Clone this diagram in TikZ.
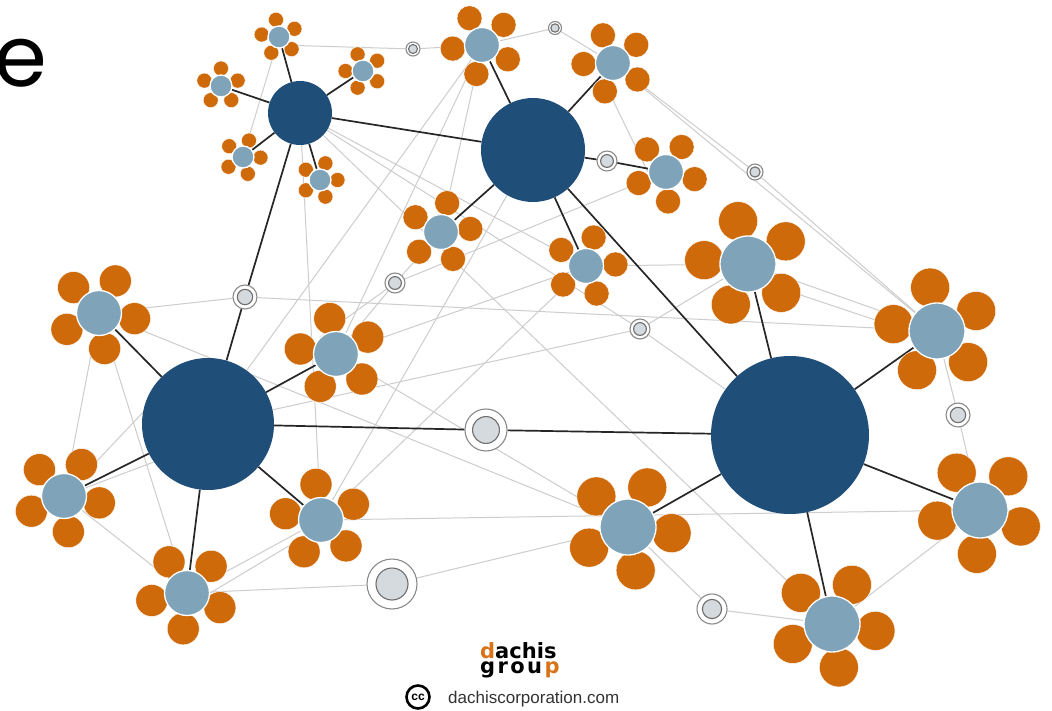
\documentclass[tikz,border=0pt]{standalone}
\usepackage{fontspec}
\setmainfont{Liberation Sans}
\newfontfamily\titlefont{Poppins}
\newfontfamily\logofont{DejaVu Sans}
\definecolor{hubblue}{HTML}{1F4E79}
\definecolor{fcblue}{HTML}{7FA3B9}
\definecolor{petalc}{HTML}{CF6A0A}
\definecolor{logoorange}{HTML}{D9731A}
\definecolor{ringc}{HTML}{8A8A8A}
\definecolor{ringc2}{HTML}{6E6E6E}
\definecolor{ringfill}{HTML}{D5DADE}
\definecolor{linegrey}{HTML}{CDCDCD}
\definecolor{lineblack}{HTML}{262626}
\definecolor{urlgrey}{HTML}{333333}
\pgfdeclarelayer{paper}
\pgfdeclarelayer{background}
\pgfsetlayers{paper,background,main}
\tikzset{
  hub/.style={circle, fill=hubblue, inner sep=0pt},
  fc/.style={circle, fill=fcblue, draw=white, line width=1.3pt, inner sep=0pt},
  petal/.style={fill=petalc, draw=white, line width=0.4pt},
  ringo/.style={circle, fill=white, draw=ringc, line width=1.1pt, inner sep=0pt},
  ringi/.style={fill=ringfill, draw=ringc2, line width=1.1pt},
  gl/.style={draw=linegrey, line width=1pt},
  bl/.style={draw=lineblack, line width=1.7pt},
}
% name, x, y, offset angle, petal distance, petal radius, centre radius
\newcommand\myflower[7]{%
  \foreach \k in {0,...,4}{\fill[petal] (#2,#3) ++(#4+72*\k:#5pt) circle (#6pt);}
  \node[fc, minimum size=2*#7pt] (#1) at (#2,#3) {};
}
\newcommand\smallfl[4]{\myflower{#1}{#2}{#3}{#4}{17.5}{7.5}{11}}
\newcommand\medfl[4]{\myflower{#1}{#2}{#3}{#4}{29.5}{12.5}{17.5}}
\newcommand\mlfl[4]{\myflower{#1}{#2}{#3}{#4}{36}{16}{22.5}}
\newcommand\bigfl[4]{\myflower{#1}{#2}{#3}{#4}{44}{19.5}{28}}
% name, x, y, outer radius
\newcommand\myring[4]{%
  \node[ringo, minimum size=2*#4pt] (#1) at (#2,#3) {};
  \draw[ringi] (#1.center) circle ({0.64*#4pt});
}
\begin{document}
\begin{tikzpicture}[x=1pt,y=-1pt]
\useasboundingbox (0,0) rectangle (1052,711);
\begin{pgfonlayer}{paper}
\fill[white] (0,0) rectangle (1052,711);
\end{pgfonlayer}

% title fragment
\node[anchor=base west, inner sep=0pt, font=\titlefont\fontsize{85}{85}\selectfont] (title) at (-6,87) {e};

% hubs
\node[hub, minimum size=64pt] (H1) at (300,113) {};
\node[hub, minimum size=104pt] (H2) at (533,150) {};
\node[hub, minimum size=132pt] (H3) at (208,424) {};
\node[hub, minimum size=158pt] (H4) at (790,435) {};

% flowers
\smallfl{f1}{279}{37}{100}
\smallfl{f2}{221}{86}{90}
\smallfl{f3}{363}{71}{108}
\smallfl{f4}{243}{157}{70}
\smallfl{f5}{320}{180}{72}
\medfl{f6}{482}{45}{115}
\medfl{f7}{613}{63}{110}
\medfl{f8}{666}{172}{130}
\medfl{f9}{441}{232}{78}
\medfl{f10}{586}{266}{75}
\mlfl{f11}{99}{313}{135}
\mlfl{f12}{336}{354}{100}
\mlfl{f13}{64}{496}{133}
\mlfl{f14}{321}{520}{98}
\mlfl{f15}{187}{593}{120}
\bigfl{f16}{748}{264}{103}
\bigfl{f17}{937}{331}{99}
\bigfl{f18}{980}{510}{122}
\bigfl{f19}{628}{527}{136}
\bigfl{f20}{832}{624}{135}

% ring nodes
\myring{r1}{413}{49}{7}
\myring{r2}{555}{28}{6.5}
\myring{r3}{607}{161}{10}
\myring{r4}{755}{172}{8}
\myring{r5}{395}{283}{10}
\myring{r6}{245}{297}{12}
\myring{r7}{640}{329}{10}
\myring{r8}{486}{430}{21}
\myring{r9}{958}{415}{12}
\myring{r10}{392}{584}{25}
\myring{r11}{712}{609}{15}

\begin{pgfonlayer}{background}
% grey links
\draw[gl] (f1.south east) -- (r1);  \draw[gl] (r1) -- (f6);
\draw[gl] (f6) -- (r2);  \draw[gl] (r2) -- (f7);
\draw[gl] (f7) -- (r4);  \draw[gl] (r4) -- (f17);
\draw[gl] (f7) -- (f17);
\draw[gl] (f1) -- (f4);
\draw[gl] (H1) -- (f20);
\draw[gl] (H1) -- (r7);  \draw[gl] (r7) -- (H4);
\draw[gl] (H1) -- (f14);
\draw[gl] (H1) -- (f10);
\draw[gl] (f6) -- (f9);
\draw[gl] (f6) -- (f12);
\draw[gl] (f6) -- (H3);
\draw[gl] (f7.west) -- (f8.west);
\draw[gl] (f8) -- (r5);  \draw[gl] (r5) -- (f9);
\draw[gl] (r5) -- (f12);
\draw[gl] (r5) -- (f12.north west);
\draw[gl] (f11) -- (r6); \draw[gl] (r6) -- (f17);
\draw[gl] (f11) -- (f13);
\draw[gl] (f11) -- (f19);
\draw[gl] (f11) -- (f15);
\draw[gl] (H3) -- (r7);  \draw[gl] (r7) -- (f16);
\draw[gl] (f12) -- (f19);
\draw[gl] (f12) -- (f10);
\draw[gl] (H2) -- (f14);
\draw[gl] (f14) -- (f10);
\draw[gl] (f13) -- (H3.170);
\draw[gl] (f13) -- (H3.215);
\draw[gl] (f13) -- (f15);
\draw[gl] (f15) -- (f14);
\draw[gl] (f15.east) -- (f14.south west);
\draw[gl] (f15) -- (r10); \draw[gl] (r10) -- (f19);
\draw[gl] (f14) -- (f18);
\draw[gl] (f16) -- (f17);
\draw[gl] (f16.south east) -- (f17.west);
\draw[gl] (f10) -- (f16);
\draw[gl] (f17) -- (r9);  \draw[gl] (r9) -- (f18);
\draw[gl] (f18) -- (f20);
\draw[gl] (f19) -- (r11); \draw[gl] (r11) -- (f20);
% dark links
\foreach \f in {f1,f2,f3,f4,f5} {\draw[bl] (H1) -- (\f);}
\draw[bl] (H1) -- (H2);
\draw[bl] (H1) -- (r6); \draw[bl] (r6) -- (H3);
\foreach \f in {f6,f7,f9,f10} {\draw[bl] (H2) -- (\f);}
\draw[bl] (H2) -- (r3); \draw[bl] (r3) -- (f8);
\draw[bl] (H2) -- (H4);
\foreach \f in {f11,f12,f13,f14,f15} {\draw[bl] (H3) -- (\f);}
\draw[bl] (H3) -- (r8); \draw[bl] (r8) -- (H4);
\foreach \f in {f16,f17,f18,f19,f20} {\draw[bl] (H4) -- (\f);}
\end{pgfonlayer}

% logo
\node[anchor=base west, inner sep=0pt, font=\logofont\bfseries\fontsize{21}{21}\selectfont] (dachis) at (480,658) {\textcolor{logoorange}{d}achis};
\node[anchor=base west, inner sep=0pt, font=\logofont\bfseries\fontsize{21}{21}\selectfont] (group) at (480,673) {g\hspace{2.4pt}r\hspace{2.4pt}o\hspace{2.4pt}u\hspace{2.4pt}\textcolor{logoorange}{p}};
\node[circle, draw=black, line width=2.6pt, minimum size=23pt, inner sep=0pt, font=\bfseries\fontsize{12}{12}\selectfont] (cc) at (418,697) {cc};
\node[anchor=base west, inner sep=0pt, font=\fontsize{17}{17}\selectfont, text=urlgrey] (url) at (448,703) {dachiscorporation.com};
\end{tikzpicture}
\end{document}
